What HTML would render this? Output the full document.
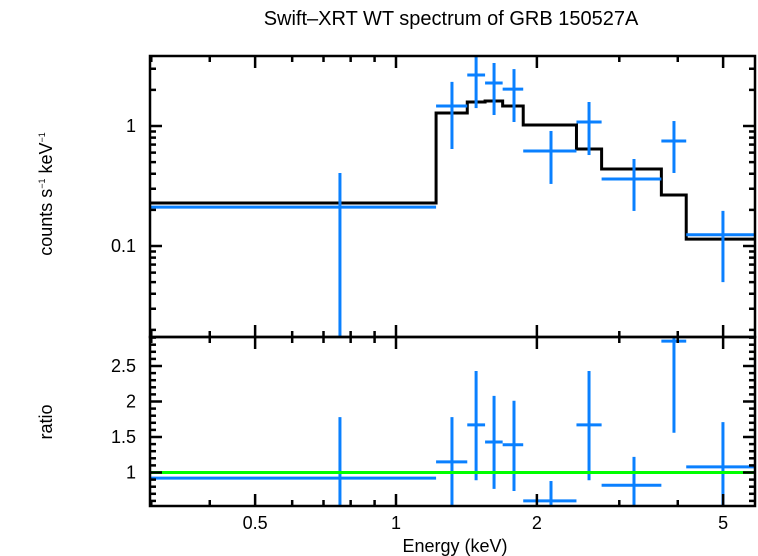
<!DOCTYPE html>
<html><head><meta charset="utf-8"><style>
html,body{margin:0;padding:0;background:#fff;}
svg{display:block;font-family:"Liberation Sans",Arial,sans-serif;}
</style></head><body>
<svg id="c" width="758" height="556" viewBox="0 0 758 556">
<text x="451" y="25" font-size="20" text-anchor="middle">Swift–XRT WT spectrum of GRB 150527A</text>
<text transform="translate(52,194) rotate(-90)" font-size="18" text-anchor="middle">counts s<tspan font-size="9" dy="-7">−1</tspan><tspan dy="7"> keV</tspan><tspan font-size="9" dy="-7">−1</tspan></text>
<text transform="translate(52,422) rotate(-90)" font-size="18" text-anchor="middle">ratio</text>
<text x="455" y="552" font-size="18" text-anchor="middle">Energy (keV)</text>
<defs>
<clipPath id="ct"><rect x="150" y="56" width="605" height="281"/></clipPath>
<clipPath id="cb"><rect x="150" y="337" width="605" height="169"/></clipPath>
</defs>
<g id="topPanel" clip-path="url(#ct)"></g>
<g id="botPanel" clip-path="url(#cb)"></g>
<g id="axes"></g>
</svg>
<script>
const binEdges=[0.298,1.218,1.42,1.55,1.69,1.87,2.43,2.75,3.69,4.17,5.85];
const centers=[0.759,1.317,1.483,1.62,1.787,2.144,2.585,3.225,3.926,4.996];
const counts=[0.211,1.468,2.66,2.28,2.03,0.619,1.08,0.362,0.75,0.124];
const countsHi=[0.406,2.33,3.9,3.35,2.98,0.909,1.585,0.531,1.10,0.196];
const countsLo=[0.001,0.643,1.41,1.235,1.08,0.329,0.573,0.196,0.406,0.050];
const model=[0.228,1.283,1.585,1.616,1.468,1.02,0.643,0.438,0.266,0.114];
const ratio=[0.92,1.15,1.67,1.43,1.39,0.60,1.67,0.82,2.85,1.08];
const ratioHi=[1.78,1.78,2.43,2.08,2.01,0.88,2.43,1.22,3.2,1.71];
const ratioLo=[0.3,0.3,0.89,0.77,0.74,0.3,0.89,0.3,1.56,0.3];
const xTicks=[0.5,1,2,5];
const yTicksTop=[0.1,1];
const yTicksBot=[1,1.5,2,2.5];

const X0=150,X1=755,T0=56,T1=337,B1=506;
const xs=e=>396+468*Math.log10(e);
const yt=v=>126-120*Math.log10(v);
const yb=v=>472.5-71*(v-1);
const NS='http://www.w3.org/2000/svg';
function mk(parent,tag,attrs){const el=document.createElementNS(NS,tag);for(const k in attrs)el.setAttribute(k,attrs[k]);parent.appendChild(el);return el;}
const topG=document.getElementById('topPanel'),botG=document.getElementById('botPanel'),ax=document.getElementById('axes');
const BLUE='#0a80ff';

let d='';
for(let i=0;i<model.length;i++){const x0=xs(binEdges[i]),x1=xs(binEdges[i+1]),y=yt(model[i]);d+=(i?'L':'M')+x0+','+y+'L'+x1+','+y;}
const ml=mk(topG,'path',{d:d,fill:'none',stroke:'#000','stroke-width':3});



for(let i=0;i<centers.length;i++){
 const g=mk(topG,'g',{stroke:BLUE,'stroke-width':3});
 
 
 mk(g,'line',{x1:xs(binEdges[i]),x2:xs(binEdges[i+1]),y1:yt(counts[i]),y2:yt(counts[i])});
 mk(g,'line',{x1:xs(centers[i]),x2:xs(centers[i]),y1:yt(countsHi[i]),y2:yt(countsLo[i])});
 const r=mk(botG,'g',{stroke:BLUE,'stroke-width':3});
 
 
 mk(r,'line',{x1:xs(binEdges[i]),x2:xs(binEdges[i+1]),y1:yb(ratio[i]),y2:yb(ratio[i])});
 mk(r,'line',{x1:xs(centers[i]),x2:xs(centers[i]),y1:yb(ratioHi[i]),y2:yb(ratioLo[i])});
}
const gl=mk(botG,'line',{x1:X0,x2:X1,y1:yb(1),y2:yb(1),stroke:'#00ff00','stroke-width':3});



const f1=mk(ax,'rect',{x:X0,y:T0,width:X1-X0,height:T1-T0,fill:'none',stroke:'#000','stroke-width':2.5});


const f2=mk(ax,'rect',{x:X0,y:T1,width:X1-X0,height:B1-T1,fill:'none',stroke:'#000','stroke-width':2.5});



function tick(x1,y1,x2,y2){mk(ax,'line',{x1:x1,y1:y1,x2:x2,y2:y2,stroke:'#000','stroke-width':2.5});}
const minorX=[0.3,0.4,0.5,0.6,0.7,0.8,0.9,1,2,3,4,5];
minorX.forEach(ee=>{
 const x=xs(ee); if(x<X0||x>X1)return;
 const major=xTicks.includes(ee); const L=major?12:6;
 [T0,T1,B1].forEach(y=>{ if(y!==T0)tick(x,y,x,y-L); if(y!==B1)tick(x,y,x,y+L);});
});
xTicks.forEach(v=>{const t=mk(ax,'text',{x:xs(v),y:529,'font-size':18,'text-anchor':'middle'});t.textContent=String(v);
 });
[0.01,0.1,1].forEach(dec=>{for(let k=1;k<10;k++){const v=k*dec,y=yt(v);if(y<T0||y>T1)continue;const L=k===1?12:6;tick(X0,y,X0+L,y);tick(X1,y,X1-L,y);}});
yTicksTop.forEach(v=>{const t=mk(ax,'text',{x:136,y:yt(v)+6,'font-size':18,'text-anchor':'end'});t.textContent=String(v);
 });
for(let k=5;k<=29;k++){const v=k/10,y=yb(v);if(y<T1||y>B1)continue;const L=(k%5===0)?12:6;tick(X0,y,X0+L,y);tick(X1,y,X1-L,y);}
yTicksBot.forEach(v=>{const t=mk(ax,'text',{x:136,y:yb(v)+6,'font-size':18,'text-anchor':'end'});t.textContent=String(v);
 });
</script>
</body></html>
